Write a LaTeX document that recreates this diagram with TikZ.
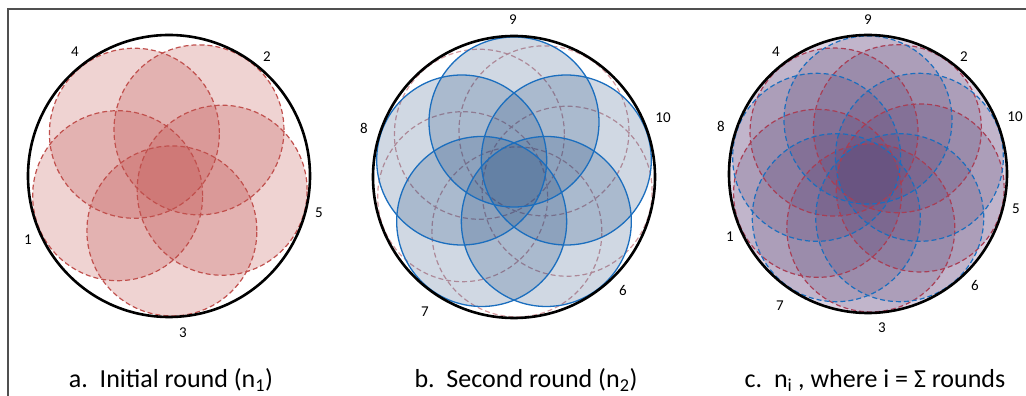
\documentclass[tikz,border=0pt]{standalone}
\usepackage{fontspec}
\setmainfont{Carlito}
\usepackage{tikz}
\usetikzlibrary{positioning}
\definecolor{rdEdge}{HTML}{C0504D}
\definecolor{rdDeep}{HTML}{A83E55}
\definecolor{rdPale}{HTML}{D49A9F}
\definecolor{rdFill}{HTML}{C0504D}
\definecolor{blEdge}{HTML}{1B6EBE}
\definecolor{blFill}{HTML}{1F497D}
\definecolor{puFill}{HTML}{5F497A}
\definecolor{puBack}{HTML}{DCD3E2}
\definecolor{frameGrey}{HTML}{505050}

\begin{document}
\begin{tikzpicture}[
    x=1pt, y=1pt,
    font=\fontsize{15}{17}\selectfont,
    ring/.style={draw=black, line width=2.6pt},
    petal/.style={fill=#1, fill opacity=0.25},
    redline/.style={draw=#1, line width=1.2pt, dash pattern=on 5pt off 3pt},
    blueline/.style={draw=blEdge, line width=1.3pt},
    bluedash/.style={draw=blEdge, line width=1.2pt, dash pattern=on 5pt off 3pt},
    num/.style={inner sep=1pt},
    caption/.style={anchor=base, font=\fontsize{26}{30}\selectfont},
  ]
  \useasboundingbox (0,0) rectangle (1026,396);
  % frame
  \draw[frameGrey, line width=1.4pt] (8,0) -- (8,387) -- (1026,387);
  % panel centres
  \coordinate (cA) at (169,220);
  \coordinate (cB) at (514,219);
  \coordinate (cC) at (868,222);

  % a. initial round
  \foreach \a in {-87,-15,57,129,201}
    \fill[petal=rdFill] (cA) ++(\a:55) circle (85);
  \foreach \a in {-87,-15,57,129,201}
    \draw[redline=rdEdge] (cA) ++(\a:55) circle (85);
  \draw[ring] (cA) circle (141);
  \node[num] (a4) at (75,344) {4};
  \node[num] (a2) at (267,339) {2};
  \node[num] (a5) at (319,183) {5};
  \node[num] (a3) at (183,63) {3};
  \node[num] (a1) at (28,156) {1};

  % b. second round
  \foreach \a in {-87,-15,57,129,201}
    \draw[redline=rdPale] (cB) ++(\a:55) circle (85);
  \foreach \a in {90,18,-54,-126,162}
    \fill[blFill, fill opacity=0.21] (cB) ++(\a:55) circle (85);
  \foreach \a in {90,18,-54,-126,162}
    \draw[blueline] (cB) ++(\a:55) circle (85);
  \draw[ring] (cB) circle (141);
  \node[num] (b9) at (513,376) {9};
  \node[num] (b10) at (663,278) {10};
  \node[num] (b6) at (623,106) {6};
  \node[num] (b7) at (425,84) {7};
  \node[num] (b8) at (364,268) {8};

  % c. all rounds
  \fill[puBack] (cC) circle (139);
  \foreach \a in {-87,-15,57,129,201,90,18,-54,-126,162}
    \fill[puFill, fill opacity=0.21] (cC) ++(\a:54) circle (84);
  \foreach \a in {-87,-15,57,129,201}
    \draw[redline=rdDeep] (cC) ++(\a:54) circle (84);
  \foreach \a in {90,18,-54,-126,162}
    \draw[bluedash] (cC) ++(\a:54) circle (84);
  \draw[ring] (cC) circle (139);
  \node[num] (c9) at (868,376) {9};
  \node[num] (c4) at (776,344) {4};
  \node[num] (c2) at (964,339) {2};
  \node[num] (c10) at (1015,279) {10};
  \node[num] (c8) at (721,270) {8};
  \node[num] (c5) at (1016,187) {5};
  \node[num] (c1) at (730,159) {1};
  \node[num] (c6) at (975,111) {6};
  \node[num] (c7) at (780,90) {7};
  \node[num] (c3) at (882,68) {3};

  % captions
  \node[caption] (capA) at (171,8) {a.\ \ Initial round (n\textsubscript{1})};
  \node[caption] (capB) at (526,8) {b.\ \ Second round (n\textsubscript{2})};
  \node[caption] (capC) at (875,8) {c.\ \ n\textsubscript{i} , where i = Σ rounds};
\end{tikzpicture}
\end{document}
